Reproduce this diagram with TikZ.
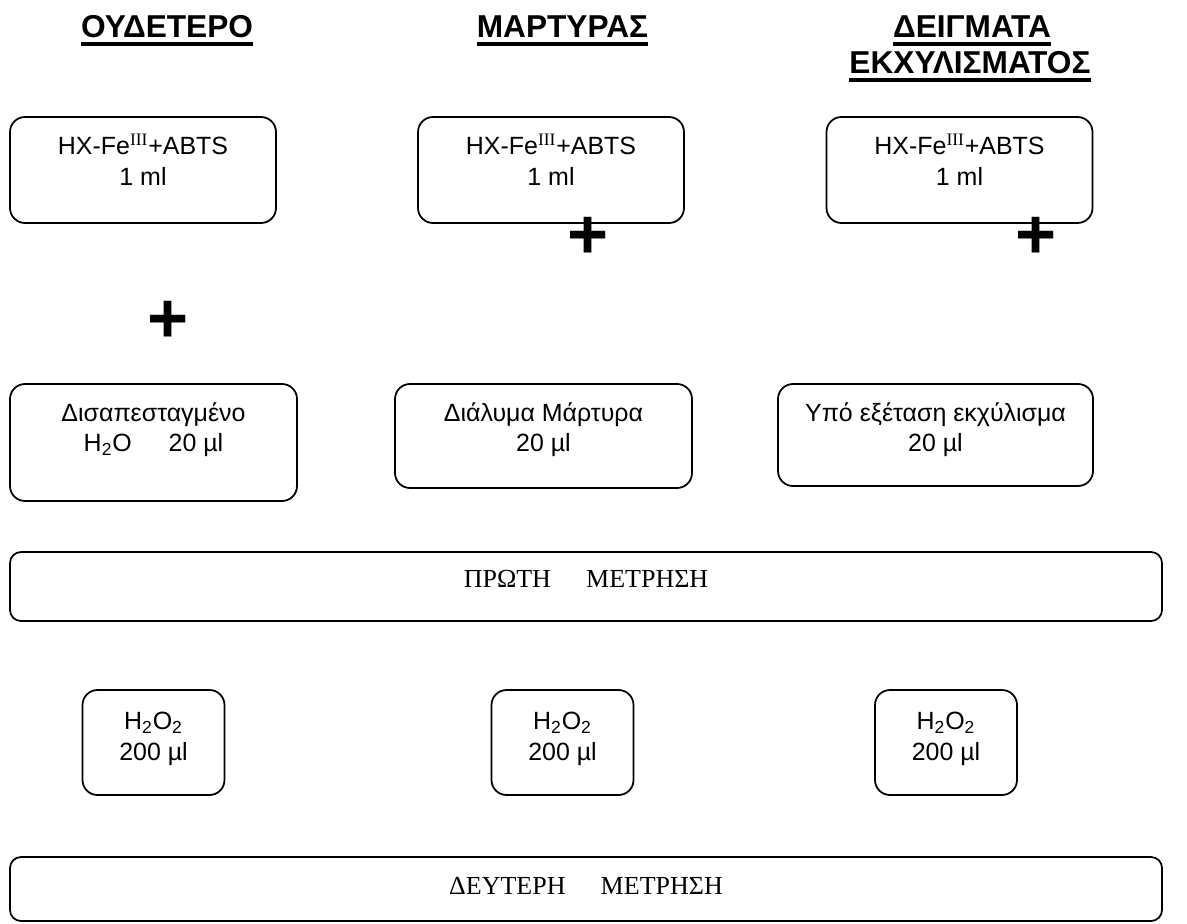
\documentclass[tikz,border=0pt]{standalone}
\usepackage{fontspec}
\setmainfont{Liberation Sans}
\newfontfamily\timesfont{Liberation Serif}
\usepackage{tikz}
\usetikzlibrary{positioning}
\newsavebox{\ulbox}
\newcommand{\ulword}[1]{\sbox{\ulbox}{#1}\usebox{\ulbox}\llap{\rule[-4.4pt]{\wd\ulbox}{2.2pt}}}
\newcommand{\hdrfont}{\fontsize{18}{21}\selectfont\bfseries}
\newcommand{\boxfont}{\fontsize{14.2}{17.5}\selectfont}
\newcommand{\readfont}{\fontsize{14.8}{17.5}\selectfont\timesfont}
\tikzset{
  stagebox/.style={draw,line width=1pt,rounded corners=0.3cm,inner sep=0pt},
  stagetext/.style={align=center,inner sep=0pt,font=\boxfont},
  heading/.style={anchor=base,inner sep=0pt,font=\hdrfont},
  plussign/.style={inner sep=0pt,font=\fontsize{40}{40}\selectfont\bfseries},
}

\begin{document}
\begin{tikzpicture}[x=1cm,y=1cm]
  \useasboundingbox (0,0) rectangle (23.74,18.46);

  % Column headings: blank, control, extract samples.
  \node[heading] (hdrblank) at (3.34,17.70) {\ulword{ΟΥΔΕΤΕΡΟ}};
  \node[heading] (hdrctrl) at (11.25,17.70) {\ulword{ΜΑΡΤΥΡΑΣ}};
  \node[heading] (hdrsmpA) at (19.44,17.70) {\ulword{ΔΕΙΓΜΑΤΑ}};
  \node[heading] (hdrsmpB) at (19.40,16.98) {\ulword{ΕΚΧΥΛΙΣΜΑΤΟΣ}};

  % Row 1: the same reagent mix in every column.
  \foreach \n/\cx in {reagA/2.86,reagB/11.02,reagC/19.19}{
    \node[stagebox,minimum width=5.32cm,minimum height=2.12cm] (\n) at (\cx,15.06) {};
    \node[stagetext,below=0.34cm of \n.north] (\n-t)
      {\strut HX-Fe\textsuperscript{\timesfont III}+ABTS\\1 ml};
  }

  \node[plussign] (plusA) at (3.36,12.02) {+};
  \node[plussign] (plusB) at (11.76,13.70) {+};
  \node[plussign] (plusC) at (20.72,13.70) {+};

  % Row 2: what is added, 20 ul each.
  \node[stagebox,minimum width=5.74cm,minimum height=2.34cm] (addA) at (3.07,9.61) {};
  \node[stagetext,below=0.32cm of addA.north] (addA-t)
    {\strut Δισαπεσταγμένο\\H\textsubscript{2}O\hspace{21pt}20 µl};
  \node[stagebox,minimum width=5.94cm,minimum height=2.08cm] (addB) at (10.87,9.74) {};
  \node[stagetext,below=0.32cm of addB.north] (addB-t)
    {\strut Διάλυμα Μάρτυρα\\20 µl};
  \node[stagebox,minimum width=6.30cm,minimum height=2.04cm] (addC) at (18.71,9.76) {};
  \node[stagetext,below=0.32cm of addC.north] (addC-t)
    {\strut Υπό εξέταση εκχύλισμα\\20 µl};

  % First reading across all columns.
  \node[stagebox,rounded corners=0.22cm,minimum width=23.04cm,minimum height=1.38cm]
    (measA) at (11.72,6.73) {};
  \node[stagetext,font=\readfont,below=0.29cm of measA.north] (measA-t)
    {\strut ΠΡΩΤΗ\hspace{20pt}ΜΕΤΡΗΣΗ};

  % Row 3: peroxide, 200 ul each.
  \foreach \n/\cx in {peroxA/3.07,peroxB/11.25,peroxC/18.92}{
    \node[stagebox,minimum width=2.84cm,minimum height=2.10cm] (\n) at (\cx,3.61) {};
    \node[stagetext,below=0.37cm of \n.north] (\n-t)
      {\strut H\textsubscript{2}O\textsubscript{2}\\200 µl};
  }

  % Second reading.
  \node[stagebox,rounded corners=0.22cm,minimum width=23.04cm,minimum height=1.28cm]
    (measB) at (11.72,0.68) {};
  \node[stagetext,font=\readfont,below=0.33cm of measB.north] (measB-t)
    {\strut ΔΕΥΤΕΡΗ\hspace{20pt}ΜΕΤΡΗΣΗ};
\end{tikzpicture}
\end{document}
